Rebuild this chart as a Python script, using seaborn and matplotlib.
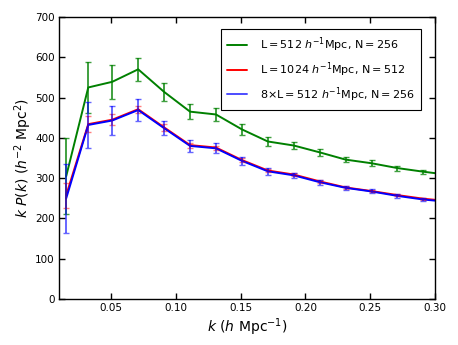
import numpy as np
import pandas as pd
import matplotlib
matplotlib.use('Agg')
import matplotlib.pyplot as plt
import seaborn as sns

sns.set_style('ticks')
plt.rcParams['font.family'] = ['DejaVu Sans']
plt.rcParams['mathtext.fontset'] = 'dejavusans'
plt.rcParams['text.color'] = 'black'
plt.rcParams['axes.labelcolor'] = 'black'
plt.rcParams['xtick.color'] = 'black'
plt.rcParams['ytick.color'] = 'black'

# data
k_vals = [0.0155, 0.0325, 0.051, 0.071, 0.091, 0.111, 0.131, 0.151,
          0.171, 0.191, 0.211, 0.231, 0.251, 0.271, 0.291, 0.311]
kp_small = [305, 525, 539, 570, 514, 465, 458, 421, 391, 381, 364, 346, 337, 325, 316, 308]
err_small = [95, 63, 42, 29, 22, 18, 15, 13, 11, 9, 8, 7, 7, 6, 5, 5]
kp_big = [258, 434, 445, 471, 426, 382, 376, 345, 319, 309, 292, 277, 268, 258, 249, 243]
err_big = [31, 20, 13, 9, 8, 6, 5, 4, 4, 3, 3, 3, 2, 2, 2, 2]
kp_avg = [250, 432, 443, 469, 424, 380, 374, 343, 317, 307, 290, 276, 267, 256, 247, 241]
err_avg = [85, 56, 35, 27, 17, 14, 12, 10, 8, 7, 6, 5, 5, 5, 4, 4]

labels = [
	r'L$=$512 $h^{-1}$Mpc, N$=$256',
	r'L$=$1024 $h^{-1}$Mpc, N$=$512',
	r'8$\times$L$=$512 $h^{-1}$Mpc, N$=$256',
]
colors = ['#008000', '#ff0000', '#0000ff']

df = pd.DataFrame({
	'k': k_vals * 3,
	'kP': kp_small + kp_big + kp_avg,
	'run': [labels[0]] * len(k_vals) + [labels[1]] * len(k_vals) + [labels[2]] * len(k_vals),
})

fig = plt.figure(figsize=(4.58, 3.45), dpi=100)
ax = fig.add_axes([0.129, 0.133, 0.821, 0.818])

sns.lineplot(data=df, x='k', y='kP', hue='run', palette=colors, linewidth=1.4,
	sort=False, estimator=None, ax=ax)

alphas = [0.75, 0.5, 0.6]
for vals, errs, c, a in zip([kp_small, kp_big, kp_avg], [err_small, err_big, err_avg], colors, alphas):
	ax.errorbar(k_vals, vals, yerr=errs, fmt='none', ecolor=c, alpha=a,
		elinewidth=1.4, capsize=2.5, capthick=1.0)

ax.set_xlim(0.01, 0.30)
ax.set_ylim(0, 700)
ax.set_xticks([0.05, 0.10, 0.15, 0.20, 0.25, 0.30])
ax.set_xticklabels(['0.05', '0.10', '0.15', '0.20', '0.25', '0.30'])
ax.set_yticks(np.arange(0, 701, 100))
ax.tick_params(direction='in', length=4, width=1, top=True, right=True, labelsize=7.5, pad=3)
for s in ax.spines.values():
	s.set_linewidth(1.0)
	s.set_color('black')

ax.set_xlabel(r'$k\ (h\ \mathrm{Mpc}^{-1})$', fontsize=10, labelpad=2)
ax.set_ylabel(r'$k\ P(k)\ (h^{-2}\ \mathrm{Mpc}^{2})$', fontsize=10, labelpad=1)

leg = ax.legend(loc='upper right', bbox_to_anchor=(0.963, 0.957), fontsize=8,
	fancybox=False, framealpha=1, edgecolor='black', handlelength=1.8,
	labelspacing=0.55, borderpad=0.6, handletextpad=1.1, borderaxespad=0)
leg.get_frame().set_linewidth(0.8)
leg.get_lines()[2].set_alpha(0.7)

fig.savefig('out.png', dpi=100)
